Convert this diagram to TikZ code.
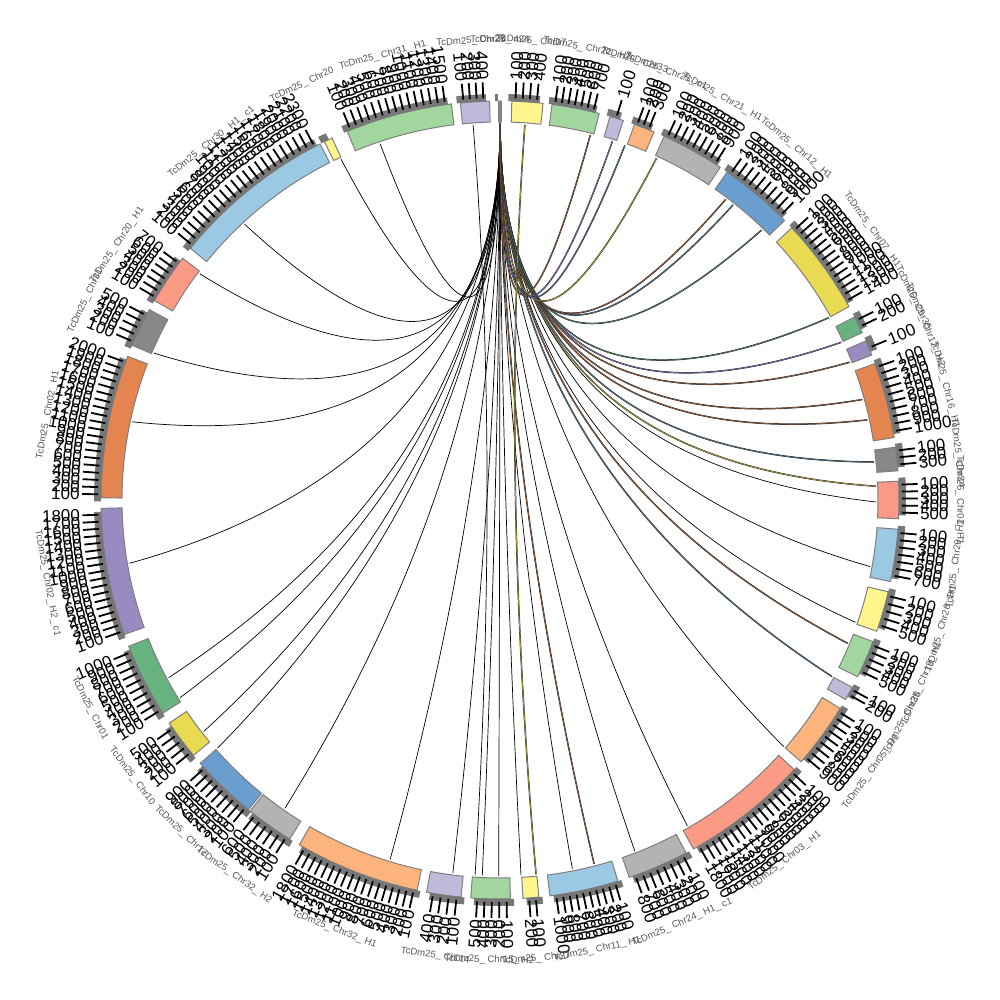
\documentclass[tikz,border=0pt]{standalone}
\usepackage{fontspec}
\setmainfont{Liberation Sans}
\usepackage{tikz}
\usetikzlibrary{calc}
\definecolor{lav}{HTML}{BEBADA}
\definecolor{ylw}{HTML}{FFF58C}
\definecolor{grn}{HTML}{A1D69E}
\definecolor{org}{HTML}{FDB47C}
\definecolor{gry}{HTML}{B3B3B3}
\definecolor{blu}{HTML}{6A9ECF}
\definecolor{yld}{HTML}{E8DB52}
\definecolor{grd}{HTML}{67B27F}
\definecolor{pur}{HTML}{9A8AC2}
\definecolor{orn}{HTML}{E4844F}
\definecolor{gyd}{HTML}{888888}
\definecolor{sal}{HTML}{FB9A85}
\definecolor{lbl}{HTML}{9BC8E3}
\definecolor{chromedge}{HTML}{7F7F7F}
\definecolor{bandgray}{HTML}{777777}
\definecolor{namegray}{HTML}{555555}
\definecolor{rust}{HTML}{8A5A3C}
\definecolor{olv}{HTML}{A89A38}
\definecolor{slate}{HTML}{4F6F86}
\definecolor{lnkpur}{HTML}{7A6AAE}
\definecolor{lnkgrn}{HTML}{4D7A5C}
\tikzset{
  chrom/.style={draw=chromedge, line width=0.5pt},
  tickband/.style={fill=bandgray, draw=none},
  tickmark/.style={line width=0.9pt},
  ticklabel/.style={inner sep=0.5pt, font=\fontsize{8.5}{9}\selectfont},
  chromname/.style={inner sep=0pt, text=namegray, font=\fontsize{4.8}{5}\selectfont},
  link/.style={draw=black, line width=0.35pt},
  ribbon/.style={draw=black!85, line width=0.2pt, double=#1, double distance=0.35pt}
}

\begin{document}
\begin{tikzpicture}[x=0.5pt,y=0.5pt]
    \useasboundingbox (-500,-500) rectangle (500,500);
    \coordinate (hub) at (0,40);
    \coordinate (top) at (90:376);
    % links to the small contig at the top
    \foreach \a [count=\i] in {108.6,115,132.8,143,157,168,189.7,208.2,211.7,218,221.3,235.1,253,262.8,267.3,269.8,273.2,281.1,291,299.9,319,341,349.8,359.7}{
        \coordinate (lk-\i) at (\a:376);
        \draw[link] (lk-\i) .. controls ($(lk-\i)!0.667!(hub)$) and ($(top)!0.667!(hub)$) .. (top);
    }
    \foreach \a/\c [count=\i] in {284.5/rust,332/slate,337.6/rust,2.1/olv,5.8/slate,12.3/rust,15.5/rust,21.5/rust,24.8/lnkpur,29/lnkgrn,45.9/lnkgrn,51.7/slate,53.1/rust,65.4/olv,70.6/slate,72.6/lnkpur,76.1/rust}{
        \coordinate (rb-\i) at (\a:376);
        \draw[ribbon=\c] (rb-\i) .. controls ($(rb-\i)!0.667!(hub)$) and ($(top)!0.667!(hub)$) .. (top);
    }
    \coordinate (lavtop) at (94.1:376);
    \coordinate (lavbot) at (266.2:376);
    \coordinate (ylwtop) at (86.2:376);
    \coordinate (ylwbot) at (275.5:376);
    \draw[link] (lavtop) .. controls ($(lavtop)!0.667!(hub)$) and ($(lavbot)!0.667!(hub)$) .. (lavbot);
    \draw[ribbon=olv] (ylwtop) .. controls ($(ylwtop)!0.667!(hub)$) and ($(ylwbot)!0.667!(hub)$) .. (ylwbot);
    % chromosomes, tick band, ticks and names
    \foreach \a/\b/\n/\col/\nm [count=\s] in {
        95.7/91.5/4/lav/{TcDm25\_ Chr23},
        90.2/89.8/0/gyd/{TcDm25\_ 424},
        88.3/83.8/4/ylw/{TcDm25\_ Chr07},
        82.5/75.6/7/grn/{TcDm25\_ Chr22\_ H2},
        74/72/1/lav/{TcDm25\_ Chr33},
        70.3/67.3/3/org/{TcDm25\_ Chr25\_ c1},
        65.7/56.5/9/gry/{TcDm25\_ Chr21\_ H1},
        55.3/44.5/10/blu/{TcDm25\_ Chr12\_ H1},
        43/29/14/yld/{TcDm25\_ Chr07\_ H1},
        27.3/24.8/2/grd/{TcDm25\_ Chr35},
        23.5/21.3/1/pur/{TcDm25\_ Chr12\_ H2},
        20/9/10/orn/{TcDm25\_ Chr16\_ H1},
        7.6/4.2/3/gyd/{TcDm25\_ Chr34},
        2.7/-2.7/5/sal/{TcDm25\_ Chr01\_ H1},
        -4.2/-11.8/7/lbl/{TcDm25\_ Chr20\_ H2},
        -13.3/-19.2/5/ylw/{TcDm25\_ Chr26\_ H1},
        -20.8/-26.3/5/grn/{TcDm25\_ Chr19\_ H1},
        -28/-30/2/lav/{TcDm25\_ Chr36},
        -31.5/-41/9/org/{TcDm25\_ Chr05\_ H1},
        -42.5/-61/18/sal/{TcDm25\_ Chr03\_ H1},
        -62.2/-71.1/8/gry/{TcDm25\_ Chr24\_ H1\_ c1},
        -72.8/-82.8/10/lbl/{TcDm25\_ Chr11\_ H1},
        -84.4/-86.7/2/ylw/{TcDm25\_ Chr27},
        -88.5/-94.2/5/grn/{TcDm25\_ Chr15\_ H2},
        -95.6/-100.6/4/lav/{TcDm25\_ Chr14},
        -102/-120.2/18/org/{TcDm25\_ Chr32\_ H1},
        -121.8/-128.8/6/gry/{TcDm25\_ Chr32\_ H2},
        -129.1/-138.7/9/blu/{TcDm25\_ Chr17},
        -140.2/-146/5/yld/{TcDm25\_ Chr10},
        -147.7/-158.5/10/grd/{TcDm25\_ Chr01},
        -160.3/-178.8/18/pur/{TcDm25\_ Chr02\_ H2\_ c1},
        179.7/158.9/20/orn/{TcDm25\_ Chr02\_ H1},
        157.2/151.5/5/gyd/{TcDm25\_ Chr31},
        150/142.7/7/sal/{TcDm25\_ Chr20\_ H1},
        140.9/116.8/23/lbl/{TcDm25\_ Chr30\_ H1\_ c1},
        116.1/114.9/0/ylw/{TcDm25\_ Chr20},
        112.5/97/15/grn/{TcDm25\_ Chr31\_ H1}}{
        \draw[chrom, fill=\col] (\a:378) arc[start angle=\a, end angle=\b, radius=378]
            -- (\b:399) arc[start angle=\b, end angle=\a, radius=399] -- cycle;
        \pgfmathsetmacro\ba{\a+0.5}
        \pgfmathsetmacro\bb{\b+0.5}
        \fill[tickband] (\ba:399) arc[start angle=\ba, end angle=\bb, radius=399]
            -- (\bb:406) arc[start angle=\bb, end angle=\ba, radius=406] -- cycle;
        \pgfmathsetmacro\st{(\a-\b)/(\n+0.4)}
        \ifnum\n>0
            \foreach \k in {1,...,\n}{
                \pgfmathsetmacro\t{\a+0.5-\k*\st}
                \draw[tickmark] (\t:402) -- (\t:418);
                \pgfmathtruncatemacro\rh{cos(\t)>0 ? 1 : 0}
                \ifnum\rh=1
                    \node[ticklabel, rotate=\t, anchor=west] (tl-\s-\k) at (\t:419) {\k00};
                \else
                    \pgfmathsetmacro\rt{\t+180}
                    \node[ticklabel, rotate=\rt, anchor=east] (tl-\s-\k) at (\t:419) {\k00};
                \fi
            }
        \fi
        \pgfmathsetmacro\m{(\a+\b)/2}
        \pgfmathtruncatemacro\up{sin(\m)>=0 ? 1 : 0}
        \ifnum\up=1
            \pgfmathsetmacro\nr{\m-90}
        \else
            \pgfmathsetmacro\nr{\m+90}
        \fi
        \node[chromname, rotate=\nr] (nm-\s) at (\m:460) {\nm};
    }
\end{tikzpicture}
\end{document}
